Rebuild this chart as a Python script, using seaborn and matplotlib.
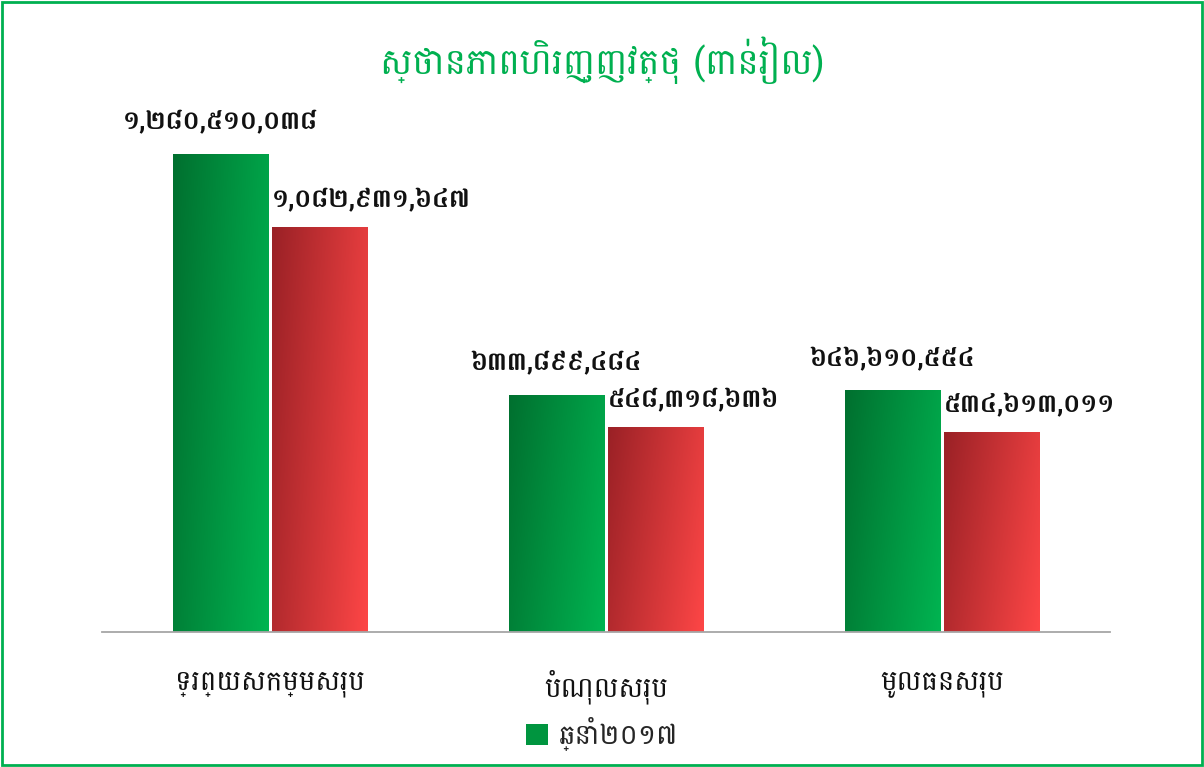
import numpy as np
import pandas as pd
import seaborn as sns
import matplotlib
matplotlib.use("Agg")
from matplotlib import pyplot as plt
from matplotlib.colors import LinearSegmentedColormap
from matplotlib.patches import Patch, Rectangle

# data (thousand riel)
categories = ["ទ្រព្យសកម្មសរុប", "បំណុលសរុប", "មូលធនសរុប"]
series = ["ឆ្នាំ២០១៧", "ឆ្នាំ២០១៦"]
values_2017 = [1280510038, 633899484, 646610554]
values_2016 = [1082931647, 548318636, 534613011]
labels_2017 = ["១,២៨០,៥១០,០៣៨", "៦៣៣,៨៩៩,៤៨៤", "៦៤៦,៦១០,៥៥៤"]
labels_2016 = ["១,០៨២,៩៣១,៦៤៧", "៥៤៨,៣១៨,៦៣៦", "៥៣៤,៦១៣,០១១"]
title = "ស្ថានភាពហិរញ្ញវត្ថុ (ពាន់រៀល)"

sns.set_theme(style="white")
plt.rcParams["font.family"] = ["Battambang", "Noto Sans Khmer", "DejaVu Sans"]

df = pd.DataFrame({
    "category": categories * 2,
    "series": [series[0]] * 3 + [series[1]] * 3,
    "value": values_2017 + values_2016,
})

fig = plt.figure(figsize=(12.04, 7.67), dpi=100)
ax = fig.add_axes([0.0847, 0.176, 0.8373, 0.694])

sns.barplot(data=df, x="category", y="value", hue="series",
            palette=["#00a046", "#e03a3a"], width=0.59, gap=0.04,
            ax=ax, legend=False)

green_cmap = LinearSegmentedColormap.from_list("g", ["#00702f", "#00b451"])
red_cmap = LinearSegmentedColormap.from_list("r", ["#9a2126", "#fd4646"])

# gradient fill clipped to each bar
u = np.linspace(0, 1, 60)
v = np.linspace(0, 1, 120)
U, V = np.meshgrid(u, v)
grad = 0.75 * U + 0.25 * V
grad = grad / grad.max()

bars = ax.patches
for i, bar in enumerate(bars):
    cmap = green_cmap if i < 3 else red_cmap
    x0, y0 = bar.get_x(), bar.get_y()
    w, h = bar.get_width(), bar.get_height()
    im = ax.imshow(grad, cmap=cmap, aspect="auto", origin="upper",
                   extent=(x0, x0 + w, y0, y0 + h), zorder=bar.get_zorder() + 0.1)
    im.set_clip_path(bar)
ax.set_xlim(-0.5, 2.5)
ax.set_ylim(0, 1.425e9)

# value labels: green centred over the bar, red starting at the bar's left edge
for i, bar in enumerate(bars):
    top = bar.get_height()
    if i < 3:
        cx = bar.get_x() + bar.get_width() / 2
        ax.annotate(labels_2017[i], (cx, top), xytext=(0, 14), textcoords="offset points",
                    ha="center", va="bottom", fontsize=18.5, fontweight="bold", color="#111111")
    else:
        ax.annotate(labels_2016[i - 3], (bar.get_x(), top), xytext=(0, 11), textcoords="offset points",
                    ha="left", va="bottom", fontsize=18.5, fontweight="bold", color="#111111")

ax.set_xlabel("")
ax.set_ylabel("")
ax.set_yticks([])
ax.tick_params(axis="x", length=0, pad=27, labelsize=20, labelcolor="#111111")
for side in ["top", "right", "left"]:
    ax.spines[side].set_visible(False)
ax.spines["bottom"].set_color("#a6a6a6")
ax.spines["bottom"].set_linewidth(1.3)

fig.text(0.5, 0.922, title, ha="center", va="center", fontsize=26, color="#00b050")

handles = [Patch(facecolor="#00953f", edgecolor="none")]
fig.legend(handles, [series[0]], loc="center", bbox_to_anchor=(0.5, 0.043),
           frameon=False, fontsize=20, handlelength=0.8, handleheight=0.8,
           handletextpad=0.4)

fig.patches.append(Rectangle((0.002, 0.003), 0.996, 0.994, transform=fig.transFigure,
                             fill=False, edgecolor="#00b050", linewidth=2))

fig.savefig("out.png", dpi=100)
